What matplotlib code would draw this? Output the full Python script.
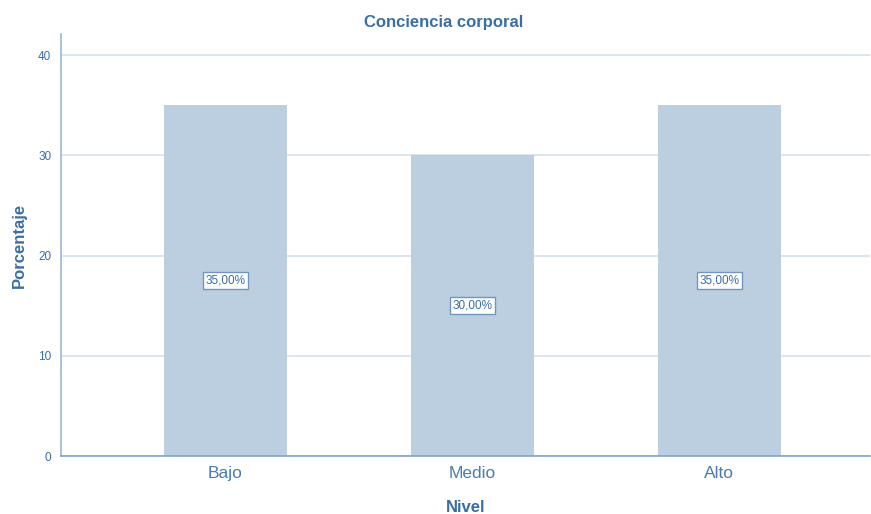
import numpy as np
import matplotlib.pyplot as plt

plt.rcParams['font.family'] = ['Liberation Sans', 'DejaVu Sans']

categorias = ['Bajo', 'Medio', 'Alto']
porcentajes = [35.0, 30.0, 35.0]
etiquetas = ['35,00%', '30,00%', '35,00%']

azul = '#3a6ea5'
barra = '#bccfe1'

fig = plt.figure(figsize=(8.71, 5.14), dpi=100)
ax = fig.add_axes([0.070, 0.1128, 0.929, 0.821])

x = np.arange(len(categorias))
ax.bar(x, porcentajes, width=0.5, color=barra, zorder=2)

for xi, v, txt in zip(x, porcentajes, etiquetas):
    ax.text(xi, v / 2, txt, ha='center', va='center', fontsize=8.5, color=azul, zorder=3,
            bbox=dict(boxstyle='square,pad=0.22', fc='white', ec='#6f95c0', lw=1))

ax.set_xlim(-0.666, 2.61)
ax.set_ylim(0, 42.1)
ax.set_yticks([0, 10, 20, 30, 40])
ax.set_xticks(x)
ax.set_xticklabels(categorias, fontsize=12.5, color='#4a7cb0')
ax.tick_params(axis='y', labelsize=8.5, colors=azul, length=0, pad=7)
ax.tick_params(axis='x', length=0, pad=7)
ax.yaxis.grid(True, color='#d6e0ea', lw=1.2, zorder=0)
ax.set_axisbelow(True)

for s in ['top', 'right']:
    ax.spines[s].set_visible(False)
ax.spines['left'].set_color('#9cb8d8')
ax.spines['bottom'].set_color('#7fa3cb')
ax.spines['left'].set_linewidth(1.2)
ax.spines['bottom'].set_linewidth(1.2)

fig.text(0.509, 1 - 22 / 514, 'Conciencia corporal', fontsize=12, fontweight='bold',
         color=azul, ha='center', va='center')
ax.set_xlabel('Nivel', fontsize=12, fontweight='bold', color=azul, labelpad=14)
ax.set_ylabel('Porcentaje', fontsize=12, fontweight='bold', color=azul, labelpad=8)

fig.savefig('out.png', dpi=100)
